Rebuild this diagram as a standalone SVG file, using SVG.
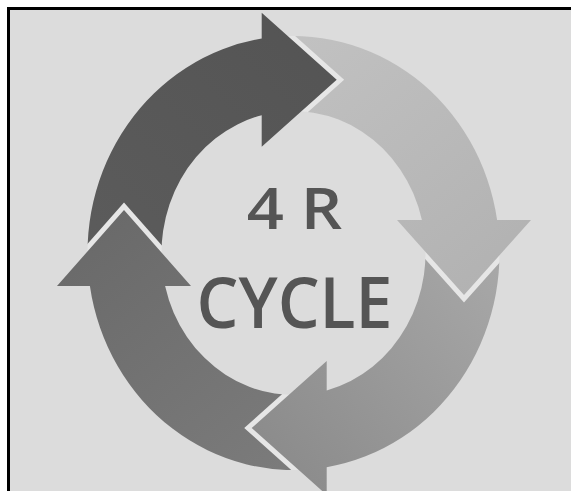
<svg xmlns="http://www.w3.org/2000/svg" width="571" height="491" viewBox="0 0 571 491">
  <defs>
    <style>
      .cut { fill: #000000; stroke: #000000; stroke-width: 10; stroke-linejoin: miter; stroke-miterlimit: 6; }
      .outline { fill: none; stroke: #e6e6e6; stroke-width: 10; stroke-linejoin: miter; stroke-miterlimit: 6; }
      .label { font-family: "Open Sans", "Liberation Sans", sans-serif; font-weight: 600; fill: #555555; text-anchor: middle; }
    </style>
    <linearGradient id="gDark" gradientUnits="userSpaceOnUse" x1="90" y1="280" x2="330" y2="30">
      <stop offset="0" stop-color="#5c5c5c"/>
      <stop offset="1" stop-color="#545454"/>
    </linearGradient>
    <linearGradient id="gLight" gradientUnits="userSpaceOnUse" x1="270" y1="40" x2="480" y2="290">
      <stop offset="0" stop-color="#c2c2c2"/>
      <stop offset="1" stop-color="#b2b2b2"/>
    </linearGradient>
    <linearGradient id="gMid" gradientUnits="userSpaceOnUse" x1="490" y1="230" x2="250" y2="440">
      <stop offset="0" stop-color="#a9a9a9"/>
      <stop offset="1" stop-color="#8b8b8b"/>
    </linearGradient>
    <linearGradient id="gLeft" gradientUnits="userSpaceOnUse" x1="120" y1="210" x2="320" y2="460">
      <stop offset="0" stop-color="#6a6a6a"/>
      <stop offset="1" stop-color="#7c7c7c"/>
    </linearGradient>
    <clipPath id="ring">
      <path clip-rule="evenodd" d="M 87.5,253 A 206 217 0 1 0 499.5,253 A 206 217 0 1 0 87.5,253 Z M 161.5,253 A 132 142 0 1 0 425.5,253 A 132 142 0 1 0 161.5,253 Z"/>
    </clipPath>
    <mask id="mDark" maskUnits="userSpaceOnUse" x="0" y="0" width="571" height="491">
      <rect x="0" y="0" width="571" height="491" fill="#ffffff"/>
      <polygon class="cut" points="57,286 124,210 191,286"/>
    </mask>
    <mask id="mLight" maskUnits="userSpaceOnUse" x="0" y="0" width="571" height="491">
      <rect x="0" y="0" width="571" height="491" fill="#ffffff"/>
      <polygon class="cut" points="261.7,12.7 336.7,79.7 261.7,146.7"/>
    </mask>
    <mask id="mMid" maskUnits="userSpaceOnUse" x="0" y="0" width="571" height="491">
      <rect x="0" y="0" width="571" height="491" fill="#ffffff"/>
      <polygon class="cut" points="531,220 464,295 397,220"/>
    </mask>
    <mask id="mLeft" maskUnits="userSpaceOnUse" x="0" y="0" width="571" height="491">
      <rect x="0" y="0" width="571" height="491" fill="#ffffff"/>
      <polygon class="cut" points="326.7,495 251.7,428 326.7,361"/>
    </mask>
  </defs>

  <rect x="0" y="0" width="571" height="491" fill="#ffffff"/>
  <rect x="8.5" y="8.5" width="600" height="600" fill="#dcdcdc" stroke="#000000" stroke-width="3"/>

  <!-- light gaps where each arrowhead cuts the previous arrow's tail -->
  <g id="gaps" clip-path="url(#ring)">
    <polyline class="outline" points="261.7,12.7 336.7,79.7 261.7,146.7"/>
    <polyline class="outline" points="531,220 464,295 397,220"/>
    <polyline class="outline" points="326.7,495 251.7,428 326.7,361"/>
    <polyline class="outline" points="57,286 124,210 191,286"/>
  </g>

  <g id="arrow-dark" mask="url(#mDark)">
    <path fill="url(#gDark)" d="M 89.9,286 A 206 217 0 0 1 261.7,38.6 L 261.7,12.7 L 336.7,79.7 L 261.7,146.7 L 261.7,115.2 A 132 142 0 0 0 165.1,286 Z"/>
  </g>
  <g id="arrow-light" mask="url(#mLight)">
    <path fill="url(#gLight)" d="M 261.7,38.6 A 206 217 0 0 1 497.1,220 L 531,220 L 464,295 L 397,220 L 421.9,220 A 132 142 0 0 0 261.7,115.2 Z"/>
  </g>
  <g id="arrow-mid" mask="url(#mMid)">
    <path fill="url(#gMid)" d="M 497.1,220 A 206 217 0 0 1 326.7,467.2 L 326.7,495 L 251.7,428 L 326.7,361 L 326.7,390.4 A 132 142 0 0 0 421.9,220 Z"/>
  </g>
  <g id="arrow-left" mask="url(#mLeft)">
    <path fill="url(#gLeft)" d="M 326.7,467.2 A 206 217 0 0 1 89.9,286 L 57,286 L 124,210 L 191,286 L 165.1,286 A 132 142 0 0 0 326.7,390.4 Z"/>
  </g>

  <g id="title">
    <text class="label" transform="translate(294.5,229) scale(1.12,1)" x="0" y="0" font-size="58">4 R</text>
    <text class="label" x="294.5" y="328" font-size="70" textLength="196" lengthAdjust="spacingAndGlyphs">CYCLE</text>
  </g>
</svg>
